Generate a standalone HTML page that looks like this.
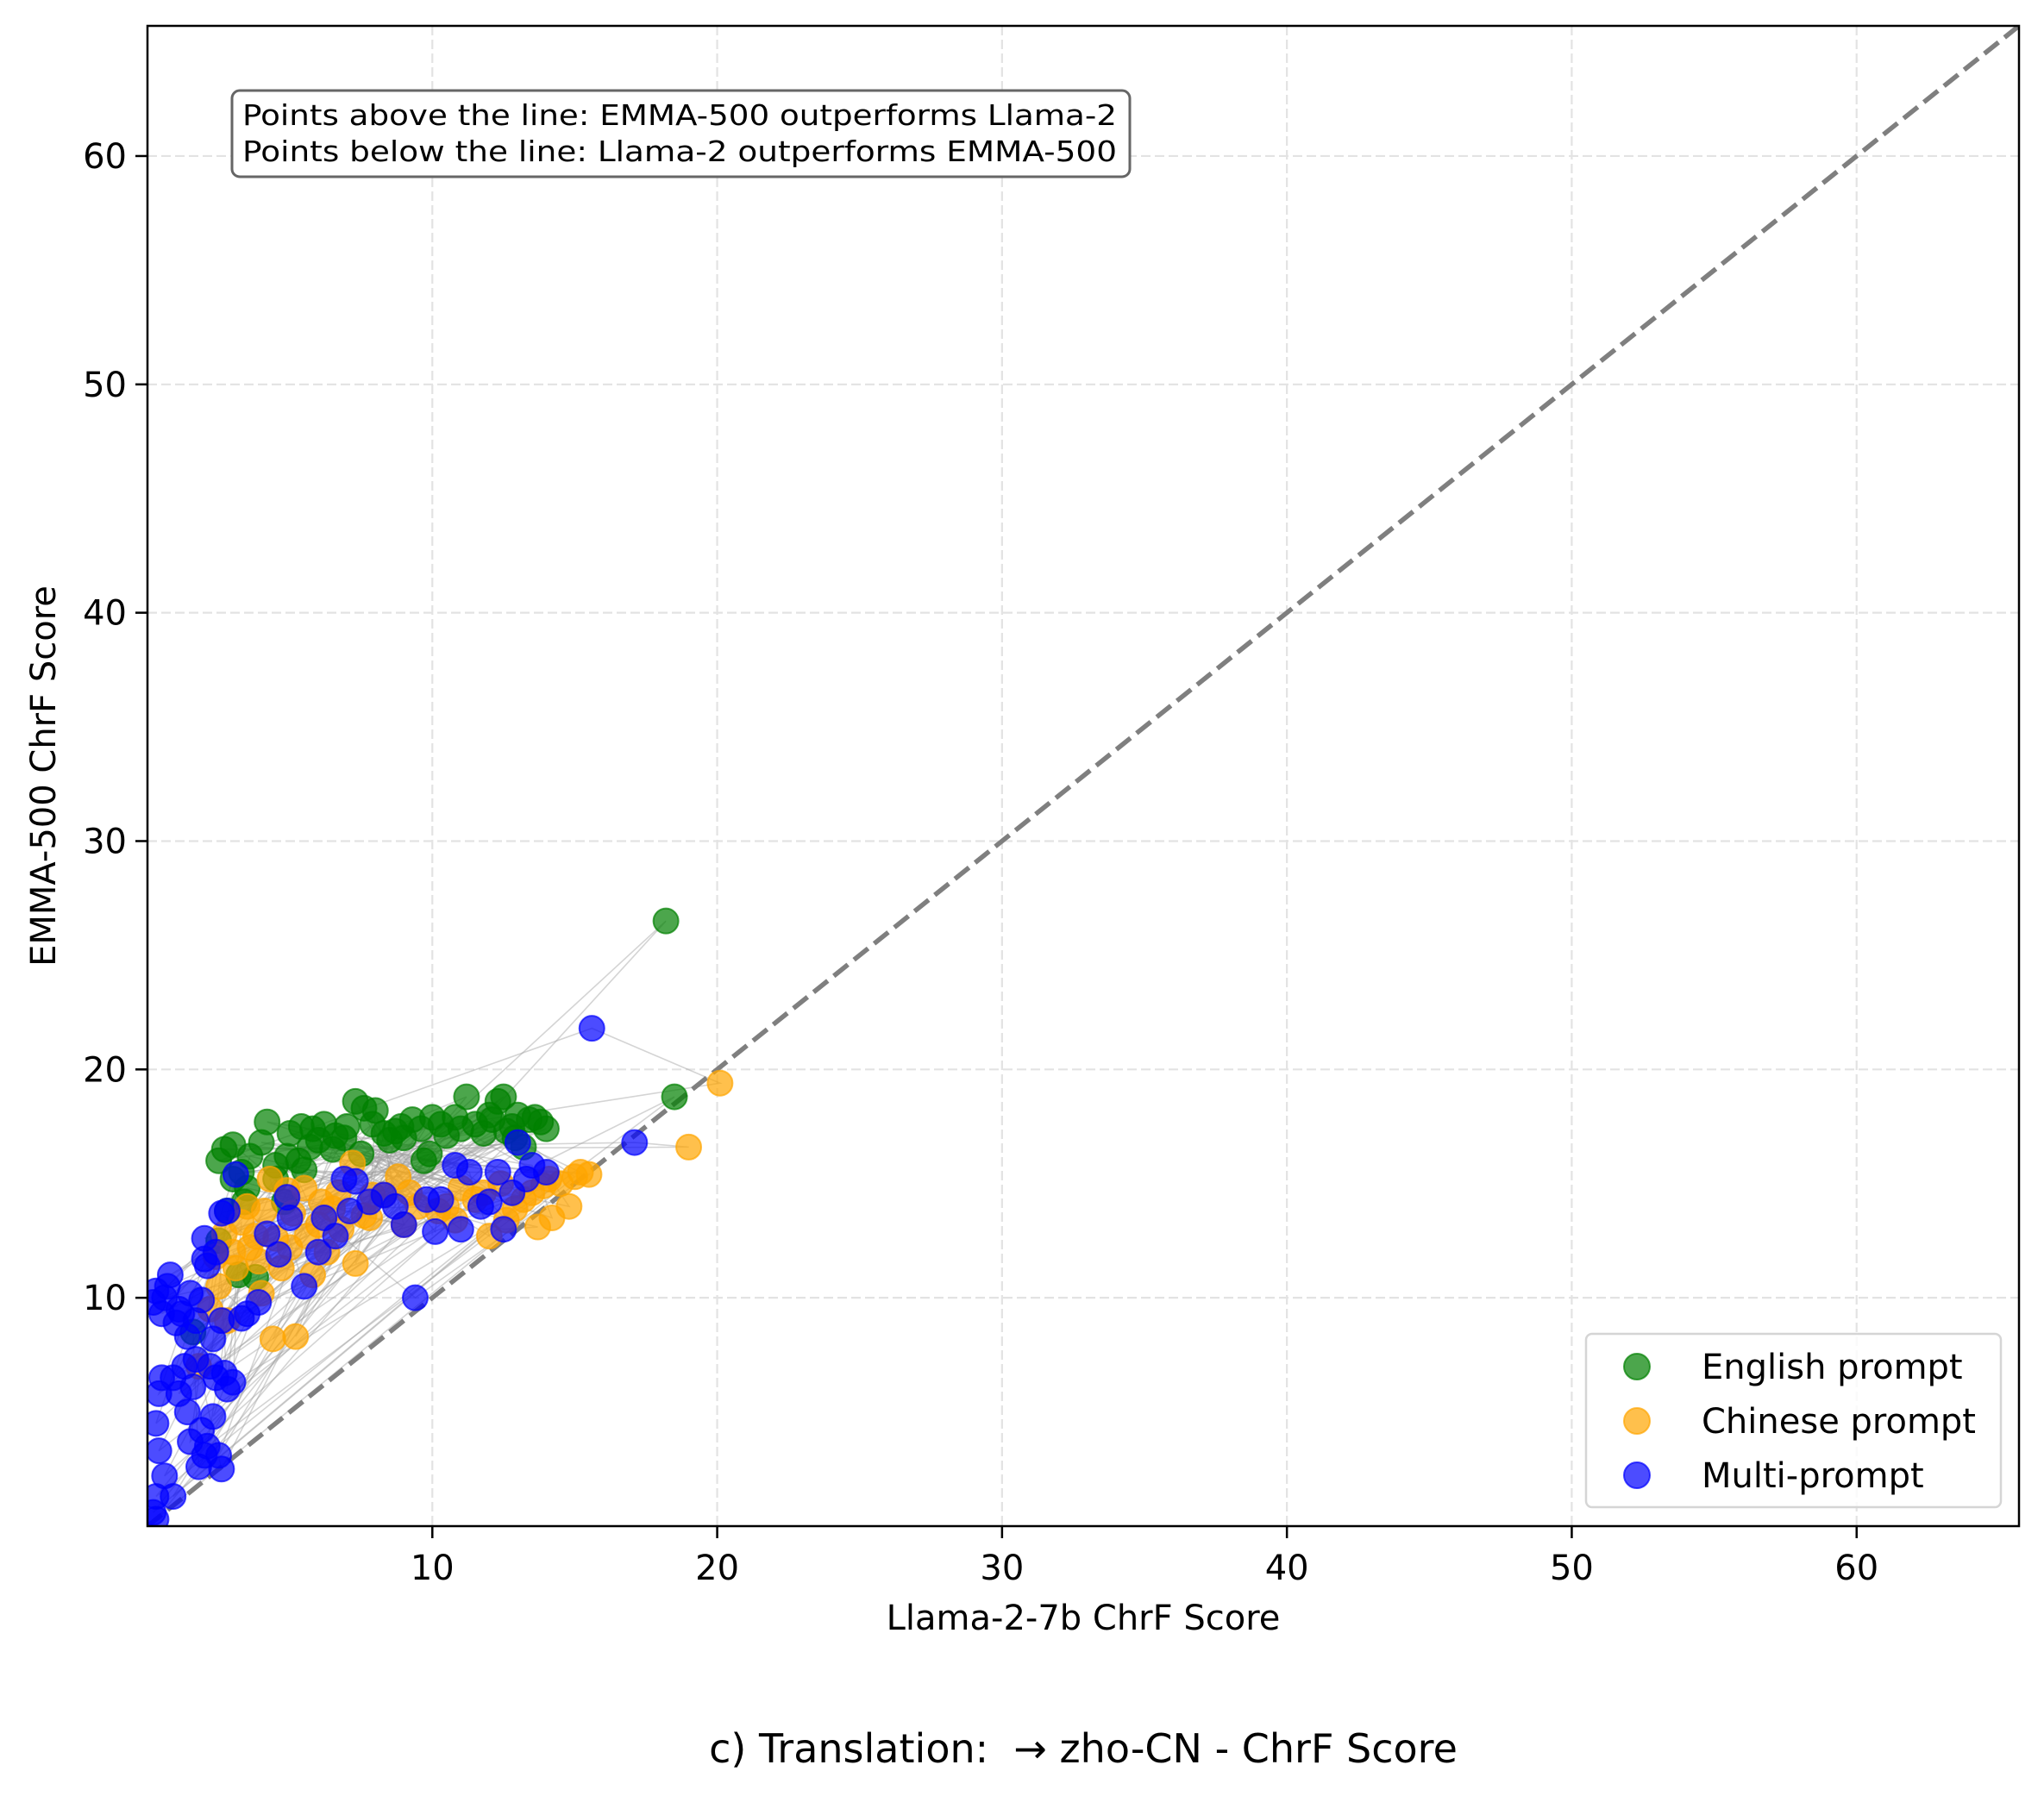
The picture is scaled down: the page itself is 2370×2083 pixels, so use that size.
<!DOCTYPE html>
<html><head><meta charset="utf-8">
<style>
html,body{margin:0;padding:0;background:#fff;}
svg{display:block;font-family:"DejaVu Sans","Liberation Sans",sans-serif;}
</style></head>
<body>
<svg id="chart" width="2370" height="2083" viewBox="0 0 2370 2083"></svg>
<script>
const englishX=[2.5,2.7,3,3.3,4,4.2,4.5,5,5.4,5.8,6,6.6,7,7.3,7.6,8,8.3,8.7,9,9.3,9.7,10,10.3,10.8,11.2,11.5,12,12.3,12.5,12.8,13,13.4,13.8,14,3.5,2.8,5.5,4.8,3.2,2.5,18.2,18.5,1.6,6.5,8.5,11.8,12.6,13.2,9.9,5.3,7.5,4.5,3.8,3.0,3.6,5.7,6.9,8.9,10.5,11,12.1,13.6,12.9,7.9,4.9,3.4,6.2,9.6];
const englishY=[16,16.5,16.7,15.5,16.8,17.7,15.8,17.2,17.5,17.4,16.9,17.1,17.5,18.6,18.3,18.2,17.2,17.3,17,17.8,16,17.9,17.6,17.9,18.8,17.6,18,18.6,18.8,17.5,18,17.8,17.7,17.4,14.8,13.8,15.6,14.2,11,12.5,26.5,18.8,8.5,16.5,16.9,17.2,17.3,16.6,16.3,16,16.3,15.2,10.9,15.2,16.2,16.6,17,17.5,17.1,17.4,17.8,17.9,17,17.6,16.2,14.2,17.6,17.4];
const chineseX=[20.1,19,15.5,15.2,14.8,14.2,13.7,13.2,12.6,12,11.5,11,10.2,9.5,8.8,7.8,7.3,7.2,6.5,6.1,5.5,5.2,4.4,5,4.3,3.8,3.5,3,2.5,2.2,4.7,5.8,6.3,8.3,9,10.5,12.4,13.9,14.5,3.3,4.0,2.8,6.8,7.9,1.8,2.7,3.1,3.6,4.1,4.5,5.1,5.6,6.7,7.6,9.2,10.8,11.8,12.9,13.5,14.1,15,3.9,2.4,4.9,6.0];
const chineseY=[19.4,16.6,15.4,15.5,14,13.5,13.1,14.3,13.4,12.7,14.3,14.8,13.8,14,15.3,13.5,11.5,15.9,13.9,14.2,14.8,8.3,8.2,12.2,15.2,12.7,14,12,10.5,9.5,11.3,11,12,14.5,13.2,14,15,14.9,15,13.3,10.2,9,13,14.5,7,12.8,11.3,12.2,13.8,12.6,13.7,12.7,14.6,13.6,14.6,13.4,14.6,13.9,14.6,15.2,15.3,11.6,11.8,14.7,13.2];
const multiX=[15.6,17.1,9.4,13,14,13.5,12.5,12.3,12,11.3,10.8,11,10.1,10.3,9.8,9,8.7,8.3,7.8,7.3,6.9,6.6,6.2,6,5.5,5,4.9,3.9,3.5,3.1,2.6,2.4,2.1,2,1.9,2.2,2.4,2.6,3,2.8,2.3,2.1,1.8,2.5,2.6,1.4,1.3,1.1,0.9,0.7,0.8,0.5,0.6,0.4,0.3,0.4,0.6,0.9,0.3,0.2,0.3,1.2,1.5,1.6,1.7,0.2,1.5,1.7,2.3,1.1,2.7,1.9,2.0,0.5,1.0,3.3,4.2,4.6,12.8,13.3,11.7,7.1,2.8,2.0,0.3,1.4];
const multiY=[21.8,16.8,10,16.8,15.5,15.8,13,15.5,14.2,15.5,15.8,13,12.9,14.3,14.3,13.2,14,14.5,14.2,15.1,15.2,12.7,13.5,12,10.5,13.5,14.4,9.8,9.3,15.4,13.7,12,11.4,12.6,9.9,7,6.5,9,6.3,6,4.8,3.5,2.6,3.1,2.5,8.3,7,5.8,6.5,10.5,11,9.3,10,5.8,4.5,3.3,2.2,1.3,1.3,0.6,0.3,9.3,3.7,6.1,7.3,9.8,10.2,9,8.2,9.5,6.7,4.2,3.1,6.5,8.9,9.1,12.8,11.9,14.6,15.2,14,13.8,13.8,11.7,10.3,5.0];
const xTicks=[10,20,30,40,50,60];
const yTicks=[10,20,30,40,50,60];

const L=171,R=2341,T=30,B=1770,MAX=65.7;
const sx=v=>L+v/MAX*(R-L);
const sy=v=>B-v/MAX*(B-T);
const NS="http://www.w3.org/2000/svg";
const svg=document.getElementById('chart');
function mk(tag,attrs,parent){const e=document.createElementNS(NS,tag);for(const k in attrs)e.setAttribute(k,attrs[k]);(parent||svg).appendChild(e);return e;}

const defs=mk('defs',{});
const cp=mk('clipPath',{id:'pc'},defs);
mk('rect',{x:L,y:T,width:R-L,height:B-T},cp);

const grid=mk('g',{});


xTicks.forEach(t=>{const l=mk('line',{x1:sx(t),x2:sx(t),y1:T,y2:B,stroke:'#e3e3e3','stroke-width':2.2,'stroke-dasharray':'11,5'},grid);

});
yTicks.forEach(t=>{const l=mk('line',{x1:L,x2:R,y1:sy(t),y2:sy(t),stroke:'#e3e3e3','stroke-width':2.2,'stroke-dasharray':'11,5'},grid);

});

const plot=mk('g',{'clip-path':'url(#pc)'});



const conn=mk('g',{stroke:'#a0a0a0','stroke-width':1.6,'stroke-opacity':0.45,fill:'none'},plot);


const n=Math.max(englishX.length,chineseX.length,multiX.length);
for(let i=0;i<n;i++){
  const pts=[];
  if(i<englishX.length)pts.push([sx(englishX[i]),sy(englishY[i])]);
  if(i<chineseX.length)pts.push([sx(chineseX[i]),sy(chineseY[i])]);
  if(i<multiX.length)pts.push([sx(multiX[i]),sy(multiY[i])]);
  if(pts.length<2)continue;
  if(pts.length===3)pts.push(pts[0]);
  const p=mk('polyline',{points:pts.map(q=>q.join(',')).join(' ')},conn);
  
  
}

const diag=mk('line',{x1:sx(0),y1:sy(0),x2:sx(MAX),y2:sy(MAX),stroke:'#7f7f7f','stroke-width':5.5,'stroke-dasharray':'21,9'},plot);



function series(xs,ys,col,name){
  const g=mk('g',{fill:col,'fill-opacity':0.7,stroke:col,'stroke-opacity':0.7,'stroke-width':2},plot);
  
  
  xs.forEach((x,i)=>{const c=mk('circle',{cx:sx(x),cy:sy(ys[i]),r:14.5},g);
  
  });
}
series(englishX,englishY,'green','english-prompt-series');
series(chineseX,chineseY,'orange','chinese-prompt-series');
series(multiX,multiY,'blue','multi-prompt-series');

const fr=mk('rect',{x:L,y:T,width:R-L,height:B-T,fill:'none',stroke:'#000','stroke-width':2.5});



xTicks.forEach(t=>{
  const l=mk('line',{x1:sx(t),x2:sx(t),y1:B,y2:B+14,stroke:'#000','stroke-width':2.5});
  
  
  const tx=mk('text',{x:sx(t),y:1832,'font-size':40,'text-anchor':'middle',fill:'#000'});
  tx.textContent=t;
  
  
});
yTicks.forEach(t=>{
  const l=mk('line',{x1:L-14,x2:L,y1:sy(t),y2:sy(t),stroke:'#000','stroke-width':2.5});
  
  
  const tx=mk('text',{x:L-24,y:sy(t)+14,'font-size':40,'text-anchor':'end',fill:'#000'});
  tx.textContent=t;
  
  
});
</script>
<svg style="position:absolute;left:0;top:0" width="2370" height="2083">
  <g>
    <rect x="269" y="105" width="1041" height="100" rx="9" fill="#fff" stroke="#666" stroke-width="3"/>
    <text x="281" y="145" font-size="33" font-family="DejaVu Sans, sans-serif" textLength="1014" lengthAdjust="spacingAndGlyphs">Points above the line: EMMA-500 outperforms Llama-2</text>
    <text x="281" y="187" font-size="33" font-family="DejaVu Sans, sans-serif" textLength="1014" lengthAdjust="spacingAndGlyphs">Points below the line: Llama-2 outperforms EMMA-500</text>
  </g>
  <g font-family="DejaVu Sans, sans-serif" font-size="40">
    <rect x="1839" y="1547" width="481" height="201" rx="7" fill="#fff" fill-opacity="0.8" stroke="#d5d5d5" stroke-width="2.5"/>
    <g>
      <circle cx="1898" cy="1585" r="15" fill="green" fill-opacity="0.7" stroke="green" stroke-opacity="0.7" stroke-width="2"/>
      <text x="1973" y="1599">English prompt</text>
    </g>
    <g>
      <circle cx="1898" cy="1648" r="15" fill="orange" fill-opacity="0.7" stroke="orange" stroke-opacity="0.7" stroke-width="2"/>
      <text x="1973" y="1662">Chinese prompt</text>
    </g>
    <g>
      <circle cx="1898" cy="1711" r="15" fill="blue" fill-opacity="0.7" stroke="blue" stroke-opacity="0.7" stroke-width="2"/>
      <text x="1973" y="1725">Multi-prompt</text>
    </g>
  </g>
  <text x="1256" y="1890" font-size="40" text-anchor="middle" font-family="DejaVu Sans, sans-serif">Llama-2-7b ChrF Score</text>
  <text x="0" y="0" font-size="40" text-anchor="middle" font-family="DejaVu Sans, sans-serif" transform="translate(64,900) rotate(-90)">EMMA-500 ChrF Score</text>
  <text x="1256" y="2044" font-size="46" text-anchor="middle" font-family="DejaVu Sans, sans-serif" style="white-space:pre">c) Translation:  → zho-CN - ChrF Score</text>
</svg>
</body></html>
